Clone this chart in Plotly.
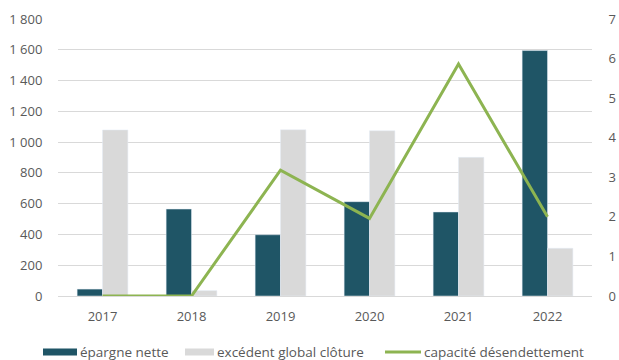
import plotly.graph_objects as go

years = ["2017", "2018", "2019", "2020", "2021", "2022"]
epargne_nette = [45, 565, 398, 613, 546, 1595]
excedent_global = [1079, 35, 1080, 1074, 901, 310]
capacite_desendettement = [0, 0, 3.18, 1.96, 5.86, 2.0]

left_ticks = [0, 200, 400, 600, 800, 1000, 1200, 1400, 1600, 1800]
left_ticktext = ["0", "200", "400", "600", "800", "1 000", "1 200", "1 400", "1 600", "1 800"]
right_ticks = [0, 1, 2, 3, 4, 5, 6, 7]

names = ["épargne nette", "excédent global clôture", "capacité désendettement"]
colors = ["#1f5566", "#d9d9d9", "#8db451"]

font_color = "#595959"
W, H = 619, 360
L, R, T, B = 58, 27, 19, 64
pw, ph = W - L - R, H - T - B

fig = go.Figure()
fig.add_trace(go.Bar(x=years, y=epargne_nette, name=names[0], marker_color=colors[0], showlegend=False))
fig.add_trace(go.Bar(x=years, y=excedent_global, name=names[1], marker_color=colors[1], showlegend=False))
fig.add_trace(go.Scatter(x=years, y=capacite_desendettement, name=names[2],
                         mode="lines", line=dict(color=colors[2], width=3), yaxis="y2",
                         showlegend=False))

# custom legend (wide swatches like the original)
def px_x(x):
    return (x - L) / pw

def px_y(y):
    return (H - B - y) / ph

leg_y = 352
swatches = [(43, 77, "rect"), (185, 214, "rect"), (385, 421, "line")]
for (x0, x1, kind), name, col in zip(swatches, names, colors):
    if kind == "rect":
        fig.add_shape(type="rect", xref="paper", yref="paper",
                      x0=px_x(x0), x1=px_x(x1), y0=px_y(leg_y + 3.5), y1=px_y(leg_y - 3.5),
                      fillcolor=col, line=dict(width=0))
    else:
        fig.add_shape(type="line", xref="paper", yref="paper",
                      x0=px_x(x0), x1=px_x(x1), y0=px_y(leg_y), y1=px_y(leg_y),
                      line=dict(color=col, width=3))
    fig.add_annotation(text=name, xref="paper", yref="paper", x=px_x(x1 + 1), y=px_y(leg_y),
                       xanchor="left", yanchor="middle", showarrow=False,
                       font=dict(size=13.5, color=font_color))

fig.update_layout(
    width=W, height=H,
    margin=dict(l=L, r=R, t=T, b=B, autoexpand=False),
    paper_bgcolor="white", plot_bgcolor="white",
    barmode="group", bargap=0.43, bargroupgap=0,
    showlegend=False,
    font=dict(family="Open Sans, Liberation Sans, sans-serif", size=13, color=font_color),
    xaxis=dict(showgrid=False, showline=True, linecolor="#d9d9d9",
               ticks="outside", ticklen=8, tickcolor="rgba(0,0,0,0)",
               tickfont=dict(size=13, color=font_color)),
    yaxis=dict(range=[0, 1800], tickvals=left_ticks, ticktext=left_ticktext,
               showgrid=True, gridcolor="#d9d9d9", gridwidth=1, zeroline=False,
               ticks="outside", ticklen=12, tickcolor="rgba(0,0,0,0)",
               tickfont=dict(size=13, color=font_color)),
    yaxis2=dict(range=[0, 7], tickvals=right_ticks, overlaying="y", side="right",
                showgrid=False, zeroline=False,
                ticks="outside", ticklen=13, tickcolor="rgba(0,0,0,0)",
                tickfont=dict(size=13, color=font_color)),
)
fig.write_html("out.html", config={"displayModeBar": False},
               post_script="document.body.style.margin='0';document.body.style.overflow='hidden';")
